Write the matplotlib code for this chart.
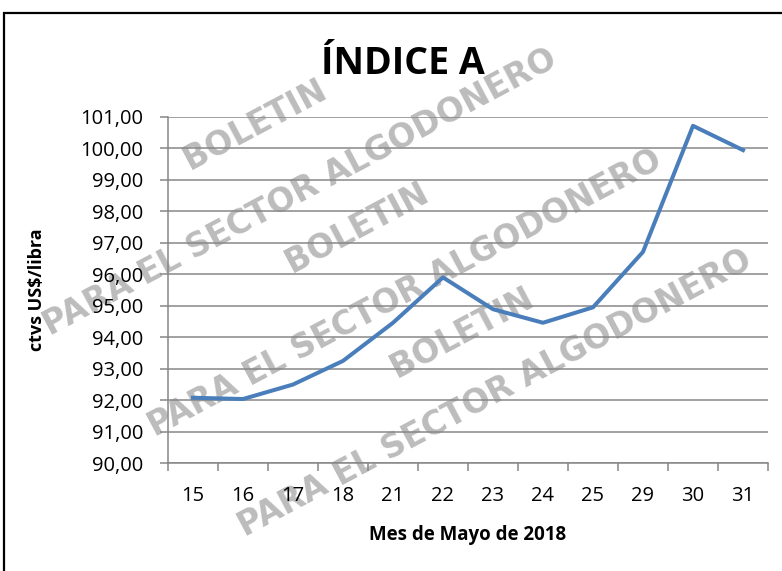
import numpy as np
import matplotlib.pyplot as plt
from matplotlib.patches import Rectangle

# Datos
dias = ['15', '16', '17', '18', '21', '22', '23', '24', '25', '29', '30', '31']
indice_a = [92.08, 92.04, 92.50, 93.25, 94.46, 95.90, 94.89, 94.46, 94.95, 96.71, 100.71, 99.94]
y_ticks = np.arange(90, 102, 1)

plt.rcParams['font.family'] = ['Open Sans', 'DejaVu Sans']

W, H = 782, 571
fig = plt.figure(figsize=(W / 100, H / 100), dpi=100)
ax = fig.add_axes([168 / W, 1 - 463.3 / H, 600 / W, 346.6 / H])
ax.set_zorder(2)

# marca de agua (debajo de todo)
wm = dict(color='#bcbcbc', fontweight='heavy', family='DejaVu Sans', fontsize=23.5,
          rotation=28, ha='center', va='center', zorder=0)
for cx, cy in [(300, 192), (405, 293), (495, 393)]:
    fig.text(cx / W, 1 - cy / H, 'PARA EL SECTOR ALGODONERO', **wm)
for cx, cy in [(255, 125), (357, 228), (462, 333)]:
    fig.text(cx / W, 1 - cy / H, 'BOLETIN', **wm)

ax.patch.set_alpha(0)
x = np.arange(len(dias))
ax.plot(x, indice_a, color='#4a7ebb', lw=2.9, zorder=3)

ax.set_xlim(-0.5, len(dias) - 0.5)
ax.set_ylim(90, 101)
ax.set_yticks(y_ticks)
ax.set_yticklabels([f'{v:.2f}'.replace('.', ',') for v in y_ticks])
ax.set_xticks(x)
ax.set_xticklabels(dias)
ax.set_xticks(np.arange(-0.5, len(dias), 1), minor=True)
ax.tick_params(axis='x', which='major', length=0, pad=16, labelsize=14.5)
ax.tick_params(axis='x', which='minor', length=6, color='#868686', width=1.1)
ax.tick_params(axis='y', length=6, color='#868686', width=1.1, pad=12, labelsize=14.5)

ax.grid(axis='y', color='#878787', lw=1.1)
ax.set_axisbelow(True)
for s in ['top', 'right']:
    ax.spines[s].set_visible(False)
for s in ['left', 'bottom']:
    ax.spines[s].set_color('#868686')
    ax.spines[s].set_linewidth(1.1)

ax.set_xlabel('Mes de Mayo de 2018', fontsize=13.5, fontweight='bold', va='center')
ax.xaxis.set_label_coords(0.5, -0.207)
ax.set_ylabel('ctvs US$/libra', fontsize=13, fontweight='bold', va='center')
ax.yaxis.set_label_coords(-0.218, 0.5)

fig.text(403 / W, 1 - 74 / H, 'ÍNDICE A', fontsize=27, fontweight='bold',
         ha='center', va='baseline', zorder=3)

# borde del gráfico
fig.patches.append(Rectangle((4 / W, -0.1), 1.2, 1.1 - 13 / H, transform=fig.transFigure,
                             fill=False, edgecolor='black', lw=1.6, zorder=3))

fig.savefig('out.png', dpi=100)
